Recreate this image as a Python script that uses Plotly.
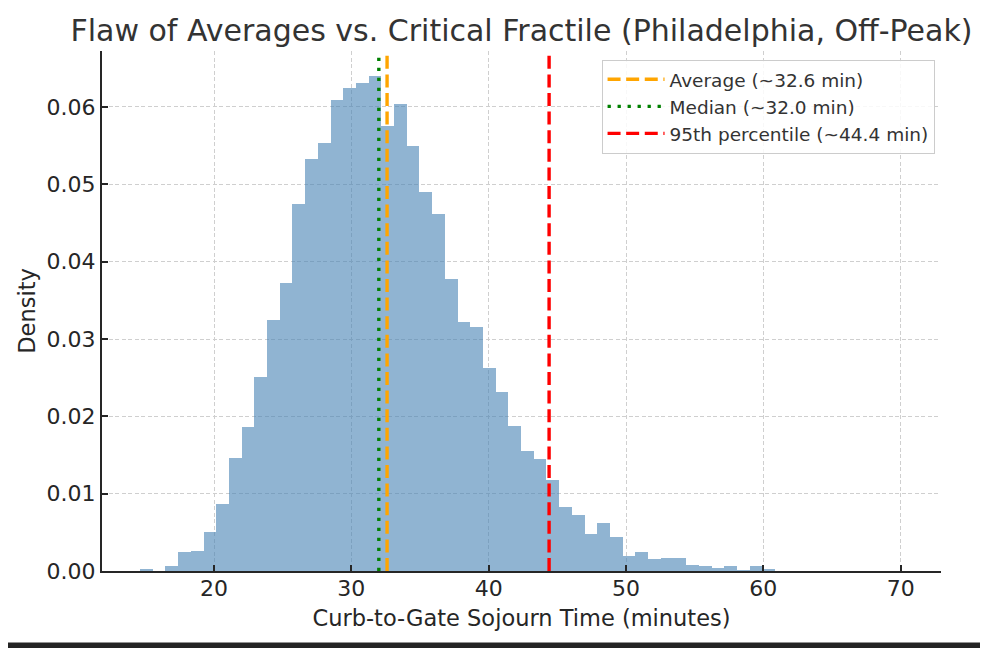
import plotly.graph_objects as go

# ---- data ----
bin_start = 14.61      # minutes, left edge of first bin
bin_width = 0.925      # minutes
density = [0.0003, 0.0000, 0.0006, 0.0024, 0.0026, 0.0050, 0.0087, 0.0146, 0.0186, 0.0251,
           0.0325, 0.0373, 0.0474, 0.0533, 0.0554, 0.0609, 0.0624, 0.0631, 0.0640, 0.0576,
           0.0604, 0.0549, 0.0490, 0.0461, 0.0378, 0.0322, 0.0316, 0.0263, 0.0232, 0.0187,
           0.0155, 0.0145, 0.0118, 0.0083, 0.0073, 0.0048, 0.0062, 0.0044, 0.0019, 0.0024,
           0.0015, 0.0017, 0.0017, 0.0008, 0.0006, 0.0004, 0.0006, 0.0001, 0.0007, 0.0003]
stat_names = ["Average (~32.6 min)", "Median (~32.0 min)", "95th percentile (~44.4 min)"]
stat_values = [32.6, 32.0, 44.4]
stat_colors = ["orange", "green", "red"]
stat_dash = ["13px,5.6px", "3.3px,6.7px", "13px,5.6px"]
x_range = [11.84, 72.94]
y_range = [0, 0.06724]
x_ticks = [20, 30, 40, 50, 60, 70]
y_ticks = [0.00, 0.01, 0.02, 0.03, 0.04, 0.05, 0.06]

centers = [bin_start + bin_width * (i + 0.5) for i in range(len(density))]

FONT = "DejaVu Sans"
OFF = 8  # page body margin of the browser
W, H = 988 - OFF, 648 - OFF
ML, MR, MT, MB = 102.3 - OFF, 47.3, 50.7 - OFF, 76.5

fig = go.Figure()
fig.add_trace(go.Bar(
    x=centers, y=density, width=bin_width,
    marker=dict(color="rgba(70,130,180,0.6)", line=dict(width=0)),
    showlegend=False, hoverinfo="skip"))

for name, v, c, d in zip(stat_names, stat_values, stat_colors, stat_dash):
    fig.add_trace(go.Scatter(
        x=[v, v], y=y_range, mode="lines", name=name,
        line=dict(color=c, width=3.4, dash=d)))

# white card inside a dark frame (as in the reference screenshot)
pw, ph = W - ML - MR, H - MT - MB
def px_x(p):
    return (p - OFF - ML) / pw
def px_y(p):
    return (H - MB - (p - OFF)) / ph

fig.add_shape(type="rect", xref="paper", yref="paper", layer="below",
              x0=px_x(0), x1=px_x(980), y0=px_y(643), y1=px_y(0),
              fillcolor="white", line=dict(width=0))

fig.update_layout(
    width=W, height=H,
    margin=dict(l=ML, r=MR, t=MT, b=MB, pad=0),
    paper_bgcolor="#242424",
    plot_bgcolor="rgba(0,0,0,0)",
    font=dict(family=FONT, color="#262626"),
    bargap=0,
    title=dict(text="Flaw of Averages vs. Critical Fractile (Philadelphia, Off-Peak)",
               x=0.5, xref="paper", xanchor="center",
               y=1 - (30 - OFF) / H, yref="container", yanchor="middle",
               font=dict(family=FONT, size=30, color="#333333")),
    legend=dict(x=px_x(601.5), y=px_y(59.5), xanchor="left", yanchor="top",
                bgcolor="rgba(255,255,255,0.85)", bordercolor="#cccccc", borderwidth=1,
                font=dict(family=FONT, size=18.5, color="#333333"),
                itemwidth=57, tracegroupgap=0),
)

fig.update_xaxes(
    range=x_range, tickvals=x_ticks, ticktext=[str(t) for t in x_ticks],
    showline=True, linecolor="#262626", linewidth=2, mirror=False,
    ticks="inside", ticklen=6, tickwidth=1.6, tickcolor="#262626",
    tickfont=dict(family=FONT, size=22, color="#262626"),
    ticklabelstandoff=-3,
    showgrid=True, gridcolor="#cfcfcf", gridwidth=1, griddash="4px,2.5px",
    zeroline=False,
    title=dict(text="Curb-to-Gate Sojourn Time (minutes)",
               font=dict(family=FONT, size=22.5, color="#262626"), standoff=10),
)
fig.update_yaxes(
    range=y_range, tickvals=y_ticks, ticktext=[f"{t:.2f}" for t in y_ticks],
    showline=True, linecolor="#262626", linewidth=2, mirror=False,
    ticks="inside", ticklen=6, tickwidth=1.6, tickcolor="#262626",
    tickfont=dict(family=FONT, size=22, color="#262626"),
    showgrid=True, gridcolor="#cfcfcf", gridwidth=1, griddash="4px,2.5px",
    zeroline=False,
    title=dict(text="Density",
               font=dict(family=FONT, size=22.5, color="#262626"), standoff=5),
)

fig.write_html("out.html")
